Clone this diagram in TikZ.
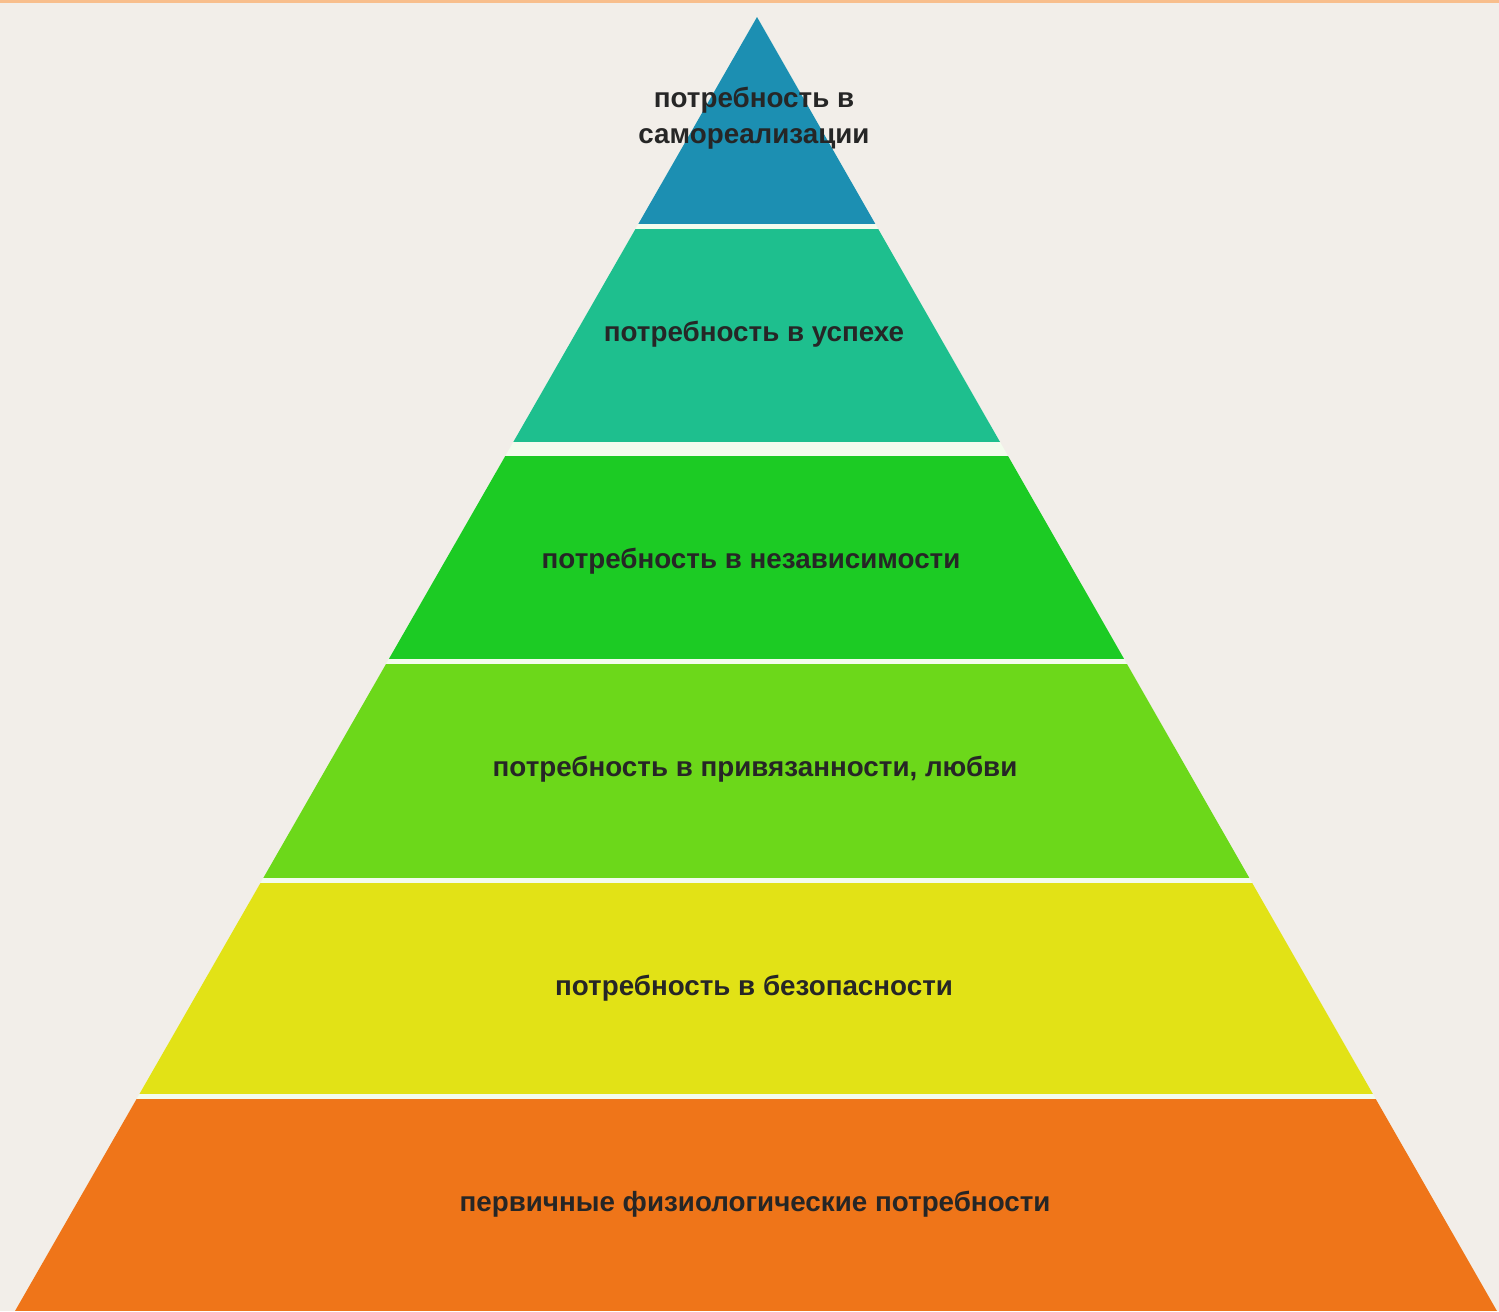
\documentclass[tikz,border=0pt]{standalone}
\usepackage{fontspec}
\setmainfont{Liberation Sans}
\usepackage{tikz}
\usetikzlibrary{positioning}
\definecolor{bgcream}{HTML}{F2EEE9}
\definecolor{topstrip}{HTML}{F8BE8C}
\definecolor{lvlA}{HTML}{1C8FB2}
\definecolor{lvlB}{HTML}{1EBF8E}
\definecolor{lvlC}{HTML}{1CCB24}
\definecolor{lvlD}{HTML}{6CD81A}
\definecolor{lvlE}{HTML}{E2E216}
\definecolor{lvlF}{HTML}{EF7519}
\definecolor{textdark}{HTML}{262626}
\tikzset{needtext/.style={font=\fontsize{7.9}{10.2}\selectfont\bfseries,
  text=textdark, align=center, inner sep=0pt}}

\begin{document}
\begin{tikzpicture}[x=0.01cm,y=-0.01cm]
\useasboundingbox (0,0) rectangle (1499,1311);
\fill[bgcream] (0,0) rectangle (1499,1311);
\fill[topstrip] (0,0) rectangle (1499,3);

% pyramid outline
\coordinate (apex) at (757,17);
\coordinate (baseL) at (15,1311);
\coordinate (baseR) at (1497,1311);
\fill[white!92!lvlD] (apex) -- (baseL) -- (baseR) -- cycle;

% levels
\begin{scope}
\clip (apex) -- (baseL) -- (baseR) -- cycle;
\fill[lvlA] (0,17) rectangle (1499,224);
\fill[lvlB] (0,229) rectangle (1499,442);
\fill[lvlC] (0,456) rectangle (1499,659);
\fill[lvlD] (0,664) rectangle (1499,878);
\fill[lvlE] (0,883) rectangle (1499,1094);
\fill[lvlF] (0,1099) rectangle (1499,1311);
\end{scope}

% labels
\node[needtext] (selfreal) at (754,118) {потребность в\\самореализации};
\node[needtext] (success) at (754,334) {потребность в успехе};
\node[needtext] (freedom) at (751,561) {потребность в независимости};
\node[needtext] (love) at (755,769) {потребность в привязанности, любви};
\node[needtext] (safety) at (754,988) {потребность в безопасности};
\node[needtext] (physio) at (755,1204) {первичные физиологические потребности};
\end{tikzpicture}
\end{document}
